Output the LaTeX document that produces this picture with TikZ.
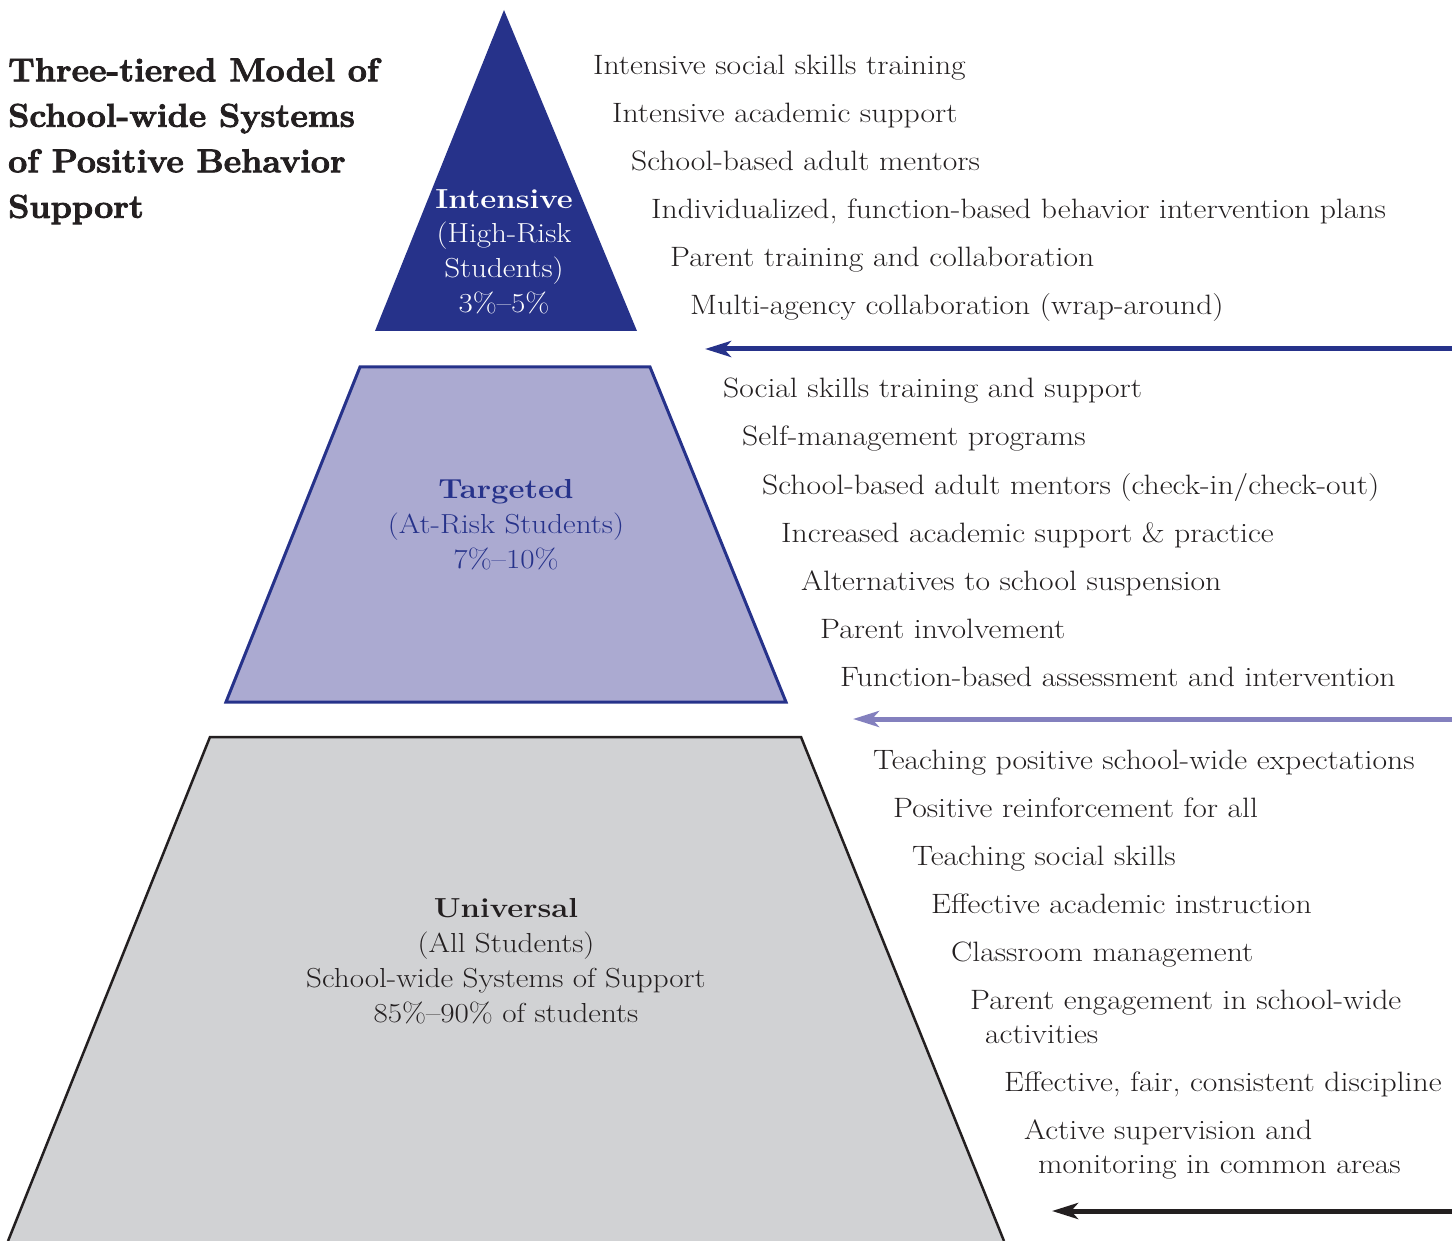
\documentclass[tikz,border=0pt]{standalone}
\usepackage{fontspec}
\setmainfont{Latin Modern Roman}[FakeStretch=1.13]
\newfontfamily\titlefont{Latin Modern Roman}[FakeStretch=1.03, BoldFeatures={FakeBold=2.5}]
\usetikzlibrary{arrows.meta}
\definecolor{navy}{RGB}{38,50,138}
\definecolor{lav}{RGB}{171,170,209}
\definecolor{lavarrow}{RGB}{131,128,190}
\definecolor{greyfill}{RGB}{209,210,212}
\definecolor{ink}{RGB}{35,31,32}
\begin{document}
\begin{tikzpicture}[x=1pt,y=-1pt,
  item/.style={anchor=base west, inner sep=0pt, text=ink, font=\fontsize{28}{34}\selectfont},
  lab/.style={anchor=base, inner sep=0pt, font=\fontsize{27.5}{34}\selectfont},
  labb/.style={lab, font=\fontsize{27.5}{34}\selectfont\bfseries},
  arr/.style={line width=5pt, -{Stealth[length=26pt,width=16pt,inset=7pt]}}]
\useasboundingbox (0,0) rectangle (1452,1241);

% title
\node[anchor=north west, inner sep=0pt, align=left, text=ink,
      font=\fontsize{33}{45.5}\selectfont\titlefont\bfseries] (title) at (8,58)
  {Three-tiered Model of\\School-wide Systems\\of Positive Behavior\\Support};

% tier shapes
\coordinate (apex) at (504,10);
\coordinate (t1l) at (375,331);
\coordinate (t1r) at (637,331);
\fill[navy] (apex) -- (t1r) -- (t1l) -- cycle;

\coordinate (t2tl) at (360,367);
\coordinate (t2tr) at (650,367);
\coordinate (t2bl) at (226,702);
\coordinate (t2br) at (786,702);
\filldraw[fill=lav, draw=navy, line width=3pt, line join=miter] (t2tl) -- (t2tr) -- (t2br) -- (t2bl) -- cycle;

\coordinate (t3tl) at (210,737);
\coordinate (t3tr) at (801,737);
\coordinate (t3bl) at (8,1241);
\coordinate (t3br) at (1004,1241);
\fill[greyfill] (t3tl) -- (t3tr) -- (t3br) -- (t3bl) -- cycle;
\draw[ink, line width=2.5pt, line join=miter] (t3bl) -- (t3tl) -- (t3tr) -- (t3br);

% tier labels
\node[labb, text=white] (i1) at (504,209) {Intensive};
\node[lab, text=white] (i2) at (504,243) {(High-Risk};
\node[lab, text=white] (i3) at (504,278) {Students)};
\node[lab, text=white] (i4) at (504,313) {3\%–5\%};

\node[labb, text=navy] (g1) at (506,498) {Targeted};
\node[lab, text=navy] (g2) at (506,533) {(At-Risk Students)};
\node[lab, text=navy] (g3) at (506,568) {7\%–10\%};

\node[labb, text=ink] (u1) at (506,917) {Universal};
\node[lab, text=ink] (u2) at (506,952) {(All Students)};
\node[lab, text=ink] (u3) at (506,987) {School-wide Systems of Support};
\node[lab, text=ink] (u4) at (506,1022) {85\%–90\% of students};

% intensive list
\node[item] (a1) at (593,75) {Intensive social skills training};
\node[item] (a2) at (612,123) {Intensive academic support};
\node[item] (a3) at (631,171) {School-based adult mentors};
\node[item] (a4) at (651,219) {Individualized, function-based behavior intervention plans};
\node[item] (a5) at (670,267) {Parent training and collaboration};
\node[item] (a6) at (690,315) {Multi-agency collaboration (wrap-around)};

% targeted list
\node[item] (b1) at (723,398) {Social skills training and support};
\node[item] (b2) at (742,446) {Self-management programs};
\node[item] (b3) at (762,494) {School-based adult mentors (check-in/check-out)};
\node[item] (b4) at (781,542) {Increased academic support \& practice};
\node[item] (b5) at (801,590) {Alternatives to school suspension};
\node[item] (b6) at (820,638) {Parent involvement};
\node[item] (b7) at (840,686) {Function-based assessment and intervention};

% universal list
\node[item] (c1) at (873,769) {Teaching positive school-wide expectations};
\node[item] (c2) at (893,817) {Positive reinforcement for all};
\node[item] (c3) at (912,865) {Teaching social skills};
\node[item] (c4) at (931,913) {Effective academic instruction};
\node[item] (c5) at (951,961) {Classroom management};
\node[item] (c6) at (970,1009) {Parent engagement in school-wide};
\node[item] (c6b) at (985,1043) {activities};
\node[item] (c7) at (1004,1091) {Effective, fair, consistent discipline};
\node[item] (c8) at (1024,1139) {Active supervision and};
\node[item] (c8b) at (1038,1173) {monitoring in common areas};

% arrows
\coordinate (p1s) at (1452,349);
\coordinate (p1e) at (705,349);
\coordinate (p2s) at (1452,719);
\coordinate (p2e) at (853,719);
\coordinate (p3s) at (1452,1211);
\coordinate (p3e) at (1052,1211);
\draw[arr, navy] (p1s) -- (p1e);
\draw[arr, lavarrow] (p2s) -- (p2e);
\draw[arr, ink] (p3s) -- (p3e);
\end{tikzpicture}
\end{document}
